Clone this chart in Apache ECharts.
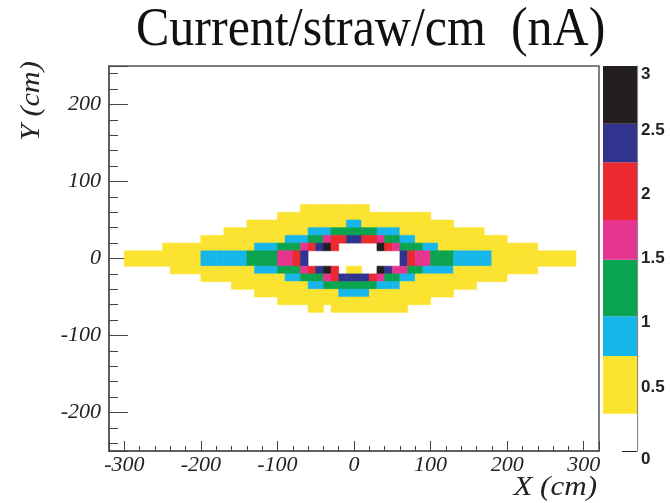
<!DOCTYPE html>
<html><head><meta charset="utf-8">
<script src="https://cdn.jsdelivr.net/npm/echarts@6/dist/echarts.min.js"></script>
<style>html,body{margin:0;padding:0;background:#fff}#c{width:670px;height:503px}</style>
</head><body><div id="c"></div>
<script>
// Bin rows (lower edge of each 10 cm row, top to bottom)
const rowY = [60, 50, 40, 30, 20, 10, 0, -10, -20, -30, -40, -50, -60, -70];
// Lower edge of the first column, bin size (cm)
const xFirst = -300;
const binSize = 10;
// Colour level of each cell: . white, y yellow, c cyan, g green, m magenta, r red, b blue, k black
const rows = [
  '.......................yyyyyyyyy...........................',
  '....................yyyyyyyyyyyyyyyyyyyy...................',
  '................yyyyyyyyyyyyyccyyyyyyyyyyyy................',
  '.............yyyyyyyyyyycccggggggcccyyyyyyyyyyy............',
  '..........yyyyyyyyyyycccggmrrbbrrmggccyyyyyyyyyyyy.........',
  '.....yyyyyyyyyyyycccgggmrbkr.....krmgggccyyyyyyyyyyyyy.....',
  'yyyyyyyyyyccccccggggmmrb............brmmgggcccccyyyyyyyyyyy',
  'yyyyyyyyyyccccccggggmmrb............brmmgggcccccyyyyyyyyyyy',
  '......yyyyyyyyyyycccgggmrbkr.yy..kbmmggccccyyyyyyyyyyy.....',
  '..........yyyyyyyyyyyccgggmrbbbbrmggccyyyyyyyyyyyy.........',
  '..............yyyyyyyyyyccgggggggcccyyyyyyyyyy.............',
  '.................yyyyyyyyyyyccccyyyyyyyyyyy................',
  '....................yyyyyyyyyyyyyyyyyyyy...................',
  '........................yy.yyyyyyyyyy......................'
];
const levelCodes = '.ycgmrbk';
const levelValues = [0, 0.52, 0.9, 1.27, 1.65, 2.02, 2.4, 2.78];
// Palette (colour bar) edges and colours
const paletteEdges = [0, 0.29, 0.74, 1.05, 1.49, 1.8, 2.25, 2.55, 3];
const paletteColors = ['#ffffff', '#fbe32f', '#17b6ea', '#0aa34f', '#e6348f', '#ea2a2f', '#30348f', '#221e1f'];

const cells = [];
rows.forEach((s, r) => {
  for (let i = 0; i < s.length; i++) {
    const lv = levelCodes.indexOf(s[i]);
    if (lv > 0) cells.push([xFirst + i * binSize, rowY[r], levelValues[lv]]);
  }
});

const pieces = [];
for (let i = 0; i < paletteColors.length; i++) {
  pieces.push({ gte: paletteEdges[i], lt: paletteEdges[i + 1], color: paletteColors[i] });
}

const serif = 'Liberation Serif';
const tickLabel = { fontFamily: serif, fontStyle: 'italic', fontSize: 22, color: '#222' };

const paletteSeries = paletteColors.map((c, i) => ({
  type: 'bar', xAxisIndex: 1, yAxisIndex: 1, stack: 'pal', silent: true,
  barWidth: '100%', itemStyle: { color: c },
  data: [paletteEdges[i + 1] - paletteEdges[i]]
}));

const chart = echarts.init(document.getElementById('c'), null, { renderer: 'canvas' });
chart.setOption({
  animation: false,
  backgroundColor: '#fff',
  grid: [
    { left: 109, top: 66, width: 490, height: 385, show: true, borderColor: '#555', borderWidth: 1.5 },
    { left: 603, top: 66, width: 34, height: 385 }
  ],
  xAxis: [
    {
      type: 'value', gridIndex: 0, min: -320, max: 320, splitNumber: 6,
      axisLine: { onZero: false, lineStyle: { color: '#555', width: 1.5 } },
      axisTick: { inside: true, length: 10, lineStyle: { color: '#444' } },
      minorTick: { show: true, splitNumber: 5, length: 5, lineStyle: { color: '#444' } },
      splitLine: { show: false },
      axisLabel: Object.assign({ margin: 3, showMinLabel: false, showMaxLabel: false }, tickLabel)
    },
    { type: 'category', gridIndex: 1, data: ['palette'], show: false }
  ],
  yAxis: [
    {
      type: 'value', gridIndex: 0, min: -250, max: 250, splitNumber: 5,
      axisLine: { onZero: false, lineStyle: { color: '#555', width: 1.5 } },
      axisTick: { inside: true, length: 19, lineStyle: { color: '#444' } },
      minorTick: { show: true, splitNumber: 5, length: 9, lineStyle: { color: '#444' } },
      splitLine: { show: false },
      axisLabel: Object.assign({ margin: 8, showMinLabel: false, showMaxLabel: false }, tickLabel)
    },
    {
      type: 'value', gridIndex: 1, min: 0, max: 3, interval: 0.5, position: 'right',
      axisLine: { show: true, onZero: false, lineStyle: { color: '#888', width: 1.2 } },
      axisTick: { show: true, inside: true, length: 15, lineStyle: { color: '#222' } },
      splitLine: { show: false },
      axisLabel: { margin: 4, fontFamily: 'Liberation Sans', fontSize: 17, fontWeight: 'bold', color: '#222',
        verticalAlignMinLabel: 'top', verticalAlignMaxLabel: 'top' }
    }
  ],
  visualMap: {
    type: 'piecewise', show: false, seriesIndex: 0, dimension: 2, pieces: pieces
  },
  series: [
    {
      type: 'custom', coordinateSystem: 'cartesian2d', xAxisIndex: 0, yAxisIndex: 0,
      encode: { x: 0, y: 1 },
      data: cells,
      renderItem: function (params, api) {
        const x = api.value(0), y = api.value(1);
        const p0 = api.coord([x, y + binSize]);
        const p1 = api.coord([x + binSize, y]);
        const col = api.visual('color');
        return { type: 'rect',
          shape: { x: p0[0], y: p0[1], width: p1[0] - p0[0], height: p1[1] - p0[1] },
          style: { fill: col, stroke: col, lineWidth: 0.6 } };
      }
    }
  ].concat(paletteSeries),
  graphic: [
    { type: 'text', x: 136, y: 31, scaleY: 1.08, silent: true,
      style: { text: 'Current/straw/cm  (nA)', fontFamily: serif, fontSize: 50, fill: '#111',
        align: 'left', verticalAlign: 'middle' } },
    { type: 'text', x: 597, y: 488, scaleX: 1.15, silent: true,
      style: { text: 'X (cm)', fontFamily: serif, fontStyle: 'italic', fontSize: 27, fill: '#222',
        align: 'right', verticalAlign: 'middle' } },
    { type: 'text', x: 32, y: 141, rotation: Math.PI / 2, scaleX: 1.12, silent: true,
      style: { text: 'Y (cm)', fontFamily: serif, fontStyle: 'italic', fontSize: 27, fill: '#222',
        align: 'left', verticalAlign: 'middle' } }
  ]
});
</script></body></html>
